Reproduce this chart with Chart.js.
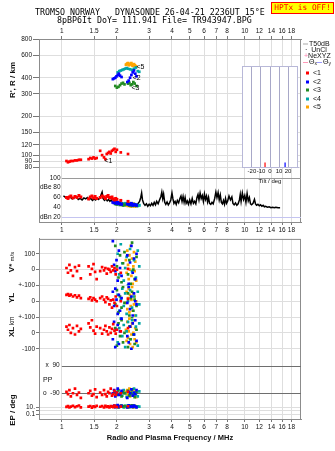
<!DOCTYPE html>
<html>
<head>
<meta charset="utf-8">
<script src="https://cdn.jsdelivr.net/npm/chart.js@4.4.1/dist/chart.umd.min.js"></script>
<style>
  body { margin: 0; background: #fff; }
  #page { position: relative; width: 335px; height: 451px; overflow: hidden; font-family: "Liberation Sans", Arial, sans-serif; color: #111; }
  canvas { position: absolute; }
  .t { position: absolute; white-space: pre; line-height: 1; }
  .mono { font-family: "DejaVu Sans Mono", monospace; font-size: 8.3px; color: #000; }
  .rot { transform: translate(-50%, -50%) rotate(-90deg); font-weight: bold; font-size: 8px; }
  .mid { transform: translate(-50%, -50%); }
  .leg { font-size: 7px; transform: translateY(-50%); }
  .ln { display: inline-block; width: 5px; height: 1px; vertical-align: middle; margin-right: 1px; }
  .sq { display: inline-block; width: 3px; height: 3px; vertical-align: middle; margin-right: 4px; }
  sub { font-size: 5px; vertical-align: -1px; }
  #hptx { left: 271px; top: 2px; width: 61px; height: 10px; background: #ffff00; border: 1px solid #ff0000; color: #ff0000; font-size: 7.8px; text-align: center; line-height: 10px; }
</style>
</head>
<body>
<div id="page">
  <canvas id="topChart" width="335" height="240" style="left:0;top:0"></canvas>
  <canvas id="lowChart" width="335" height="220" style="left:0;top:231px"></canvas>
  <canvas id="tiltChart" width="75" height="125" style="left:230px;top:60px"></canvas>

  <div class="t mono" style="left:35px;top:8px">TROMSO NORWAY   DYNASONDE 26-04-21 2236UT 15°E</div>
  <div class="t mono" style="left:57px;top:16px">8pBP6It DoY= 111.941 File= TR943947.BPG</div>
  <div class="t mono" id="hptx">HPTx is OFF!</div>

  <div class="t leg" style="left:303px;top:43px"><span class="ln" style="background:#aaa"></span>T50dB</div>
  <div class="t leg" style="left:305px;top:49px">·  UnCl</div>
  <div class="t leg" style="left:304px;top:55px"><span style="color:#ff80b0">+</span>NeXYZ</div>
  <div class="t leg" style="left:303px;top:62px"><span class="ln" style="background:#ff9ab8"></span>Θ<sub>x</sub><span class="ln" style="background:#9a9aff"></span>Θ<sub>y</sub></div>
  <div class="t leg" style="left:306px;top:72px"><span class="sq" style="background:#ff0000"></span>&lt;1</div>
  <div class="t leg" style="left:306px;top:81px"><span class="sq" style="background:#0000ff"></span>&lt;2</div>
  <div class="t leg" style="left:306px;top:89px"><span class="sq" style="background:#228b22"></span>&lt;3</div>
  <div class="t leg" style="left:306px;top:98px"><span class="sq" style="background:#00a5a5"></span>&lt;4</div>
  <div class="t leg" style="left:306px;top:106px"><span class="sq" style="background:#ffa500"></span>&lt;5</div>

  <div class="t rot" style="left:13px;top:80px">R', R / km</div>
  <div class="t rot" style="left:12px;top:262px">V* <span style="font-size:6px;font-weight:normal">m/s</span></div>
  <div class="t rot" style="left:12px;top:298px">YL</div>
  <div class="t rot" style="left:12px;top:321px;font-size:6.5px;font-weight:normal">km</div>
  <div class="t rot" style="left:12px;top:332px">XL</div>
  <div class="t rot" style="left:13px;top:410px">EP / deg</div>
  <div class="t" style="left:43px;top:376px;font-size:7px">PP</div>
  <div class="t mid" style="left:170px;top:438px;font-size:7.5px;font-weight:bold">Radio and Plasma Frequency / MHz</div>
</div>

<script>
// frequency axis ticks (MHz) and the other tick sets
const freqTicks = [1, 1.5, 2, 3, 4, 5, 6, 7, 8, 10, 12, 14, 16, 18];
const rangeTicks = [80, 90, 100, 120, 150, 200, 300, 400, 600, 800];
const dbTicks = [20, 40, 60, 80, 100];
const dbRefLines = [100, 20];
const velTicks = [100, 0, -100];
const ppTicks = [90, -90];
const epTicks = [10, 1, 0.1];
const tiltTicks = [-20, -10, 0, 10, 20];

// echo trace <1
const freq1 = [1.06, 1.08, 1.10, 1.12, 1.15, 1.18, 1.21, 1.24, 1.27, 1.40, 1.43, 1.46, 1.49, 1.52, 1.55,
  1.62, 1.66, 1.70, 1.73, 1.76, 1.79, 1.82, 1.85, 1.88, 1.91, 1.94, 1.97, 2.00, 2.10, 2.30];
const range1 = [90, 88, 89, 90, 90, 91, 91, 92, 92, 93, 95, 94, 96, 94, 95,
  108, 100, 96, 93, 102, 104, 106, 103, 108, 110, 112, 106, 110, 105, 102];
const amp1 = [60, 58, 61, 63, 59, 62, 60, 64, 61, 57, 61, 63, 59, 62, 58,
  60, 63, 61, 58, 62, 64, 60, 59, 61, 57, 55, 58, 56, 54, 52];
const vstar1 = [10, -20, 30, -5, -40, 15, -10, 25, -55, 20, -30, 5, 35, -15, -60,
  -10, 15, -5, 10, -25, 5, 0, -15, 20, -5, 10, -30, 0, -20, 5];
const yl1 = [40, 45, 35, 42, 30, 38, 25, 36, 20, 15, 25, 5, 20, 10, 0,
  20, 30, 10, -5, 25, 15, -20, 5, -40, 10, -10, 30, -30, 0, 15];
const xl1 = [40, 20, 50, 0, 30, -10, 45, 10, 25, 60, 35, 80, 15, -5, 40,
  30, -5, 20, 45, 10, -10, 35, 0, 25, 55, 15, -5, 20, 10, 30];
const pp1 = [-80, -95, -70, -110, -90, -60, -100, -85, -120, -90, -75, -105, -95, -65, -115,
  -85, -100, -70, -95, -110, -80, -90, -60, -105, -95, -75, -100, -85, -90, -80];
const ep1 = [12, 20, 8, 15, 25, 10, 18, 30, 9, 14, 22, 7, 16, 11, 26,
  13, 19, 8, 24, 12, 17, 9, 21, 15, 10, 28, 13, 11, 14, 18];

// echo trace <2
const freq2 = [1.90, 1.93, 1.96, 1.99, 2.02, 2.05, 2.08, 2.12, 2.28, 2.32, 2.36, 2.40, 2.44, 2.48, 2.52, 2.56];
const range2 = [390, 395, 400, 410, 420, 430, 415, 405, 370, 380, 400, 420, 440, 455, 430, 410];
const amp2 = [50, 49, 51, 48, 50, 47, 49, 46, 47, 46, 45, 48, 44, 46, 45, 44];
const vstar2 = [180, 30, -10, 60, -70, 120, 10, -40, 90, -90, 45, 150, -20, 70, -60, 100];
const yl2 = [60, -30, 80, 10, -80, 40, -60, 20, -10, 90, -50, 30, -90, 50, 0, -20];
const xl2 = [-40, 70, -90, 20, 50, -70, 10, 90, -20, -60, 40, -100, 60, -10, 80, -50];
const pp2 = [-90, -70, -110, -85, -60, -100, -95, -75, -120, -80, -90, -65, -105, -85, -95, -70];
const ep2 = [15, 30, 10, 22, 40, 12, 18, 25, 8, 35, 14, 20, 11, 28, 16, 9];

// echo trace <3
const freq3 = [1.96, 2.00, 2.04, 2.08, 2.12, 2.16, 2.20, 2.30, 2.34, 2.38, 2.42, 2.46, 2.50, 2.56];
const range3 = [345, 335, 340, 350, 360, 365, 355, 360, 365, 350, 355, 370, 360, 345];
const amp3 = [47, 46, 48, 45, 46, 44, 45, 46, 44, 45, 43, 46, 44, 43];
const vstar3 = [150, 20, -50, 90, -80, 40, 110, -30, 60, -90, 170, 0, -60, 80];
const yl3 = [-20, 70, -70, 30, -40, 90, -10, 50, -90, 20, 60, -60, 10, -30];
const xl3 = [30, -80, 60, -20, 80, -60, 0, -90, 40, -40, 100, -10, -70, 20];
const pp3 = [-85, -100, -70, -95, -110, -80, -90, -75, -105, -88, -65, -98, -115, -82];
const ep3 = [12, 25, 9, 18, 30, 14, 20, 10, 24, 16, 35, 11, 22, 13];

// echo trace <4
const freq4 = [2.02, 2.06, 2.10, 2.14, 2.18, 2.22, 2.26, 2.30, 2.36, 2.42, 2.48, 2.54, 2.60, 2.65];
const range4 = [440, 450, 455, 460, 465, 470, 475, 470, 465, 460, 470, 480, 450, 445];
const amp4 = [49, 48, 46, 47, 45, 48, 46, 47, 45, 44, 46, 45, 43, 44];
const vstar4 = [100, -30, 160, 40, -70, 10, 80, -100, 130, -10, 60, -50, 120, 20];
const yl4 = [40, -60, 10, 80, -30, 50, -80, 0, 70, -40, 30, -90, 60, -20];
const xl4 = [-60, 30, 90, -20, 50, -90, 10, 70, -40, 80, -10, 40, -80, 60];
const pp4 = [-75, -95, -85, -105, -70, -90, -115, -80, -100, -88, -60, -95, -110, -78];
const ep4 = [20, 11, 28, 15, 9, 24, 13, 33, 10, 19, 26, 12, 17, 14];

// echo trace <5
const freq5 = [2.24, 2.26, 2.28, 2.30, 2.32, 2.34, 2.36, 2.38, 2.40, 2.42, 2.44, 2.46, 2.48, 2.50, 2.52, 2.55];
const range5 = [505, 510, 515, 520, 500, 505, 510, 515, 520, 500, 495, 505, 510, 500, 495, 490];
const amp5 = [46, 44, 47, 43, 45, 48, 44, 42, 46, 45, 43, 47, 44, 42, 45, 43];
const vstar5 = [60, -20, 120, 30, -60, 90, 0, 150, -40, 70, -90, 20, 110, -10, 50, -70];
const yl5 = [-10, 60, -50, 20, 80, -70, 40, -30, 10, 90, -60, 50, -20, 30, -90, 0];
const xl5 = [20, -50, 70, -30, 10, 90, -70, 40, -10, 60, -90, 0, 80, -40, 30, -60];
const pp5 = [-80, -95, -70, -100, -88, -60, -110, -85, -92, -75, -105, -90, -65, -98, -80, -115];
const ep5 = [10, 22, 14, 30, 8, 18, 26, 12, 20, 16, 35, 9, 24, 13, 19, 11];

// noise amplitude (black trace, dB)
const noiseFreq = [
  1.02, 1.05, 1.08, 1.11, 1.14, 1.17, 1.20, 1.23, 1.26, 1.29,
  1.32, 1.35, 1.38, 1.41, 1.44, 1.47, 1.50, 1.53, 1.56, 1.59,
  1.62, 1.64, 1.66, 1.68, 1.71, 1.74, 1.77, 1.80, 1.83, 1.86,
  1.89, 1.92, 1.95, 1.98, 2.02, 2.06, 2.10, 2.15, 2.20, 2.25,
  2.30, 2.36, 2.42, 2.48, 2.54, 2.60, 2.66, 2.70, 2.73, 2.76,
  2.80, 2.85, 2.90, 2.95, 3.00, 3.05, 3.10, 3.15, 3.20, 3.25,
  3.30, 3.36, 3.42, 3.48, 3.52, 3.56, 3.60, 3.65, 3.70, 3.76,
  3.82, 3.88, 3.94, 4.00, 4.05, 4.10, 4.16, 4.22, 4.28, 4.35,
  4.42, 4.48, 4.54, 4.60, 4.66, 4.72, 4.78, 4.85, 4.92, 5.00,
  5.08, 5.16, 5.24, 5.32, 5.40, 5.48, 5.55, 5.62, 5.70, 5.78,
  5.86, 5.94, 6.02, 6.10, 6.18, 6.26, 6.34, 6.42, 6.52, 6.62,
  6.72, 6.85, 6.95, 7.05, 7.15, 7.25, 7.35, 7.45, 7.55, 7.65,
  7.75, 7.85, 7.95, 8.05, 8.20, 8.35, 8.50, 8.62, 8.75, 8.90,
  9.05, 9.20, 9.35, 9.45, 9.55, 9.70, 9.85, 10.0, 10.15, 10.3,
  10.45, 10.6, 10.75, 10.9, 11.1, 11.3, 11.45, 11.6, 11.8, 12.0,
  12.2, 12.4, 12.6, 12.8, 13.0, 13.3, 13.6, 13.9, 14.2, 14.5,
  14.8, 15.2, 15.6];
const noiseDb = [
  63, 60, 58, 61, 57, 59, 62, 56, 58, 55,
  59, 57, 60, 56, 58, 54, 57, 55, 59, 56,
  60, 66, 71, 58, 54, 57, 53, 56, 52, 55,
  51, 53, 49, 51, 48, 50, 47, 49, 46, 48,
  45, 47, 44, 46, 45, 47, 52, 60, 69, 55,
  48, 44, 47, 42, 46, 43, 48, 44, 50, 45,
  52, 47, 55, 62, 71, 58, 67, 50, 46, 51,
  45, 49, 55, 69, 57, 48, 52, 46, 54, 49,
  58, 63, 52, 62, 50, 60, 48, 53, 46, 55,
  47, 58, 48, 52, 47, 60, 66, 55, 69, 58,
  64, 52, 67, 56, 63, 51, 60, 48, 46, 50,
  47, 58, 71, 60, 70, 55, 65, 50, 47, 54,
  46, 58, 48, 52, 63, 55, 61, 48, 45, 49,
  44, 47, 55, 66, 52, 69, 56, 64, 50, 68,
  53, 60, 47, 45, 48, 56, 47, 44, 46, 43,
  45, 42, 44, 41, 42, 40, 41, 39, 40, 39,
  40, 39, 39];

// tilt inset (deg)
const tiltX = [-5.5];
const tiltY = [16.7];

const traceNames = ['<1', '<2', '<3', '<4', '<5'];
const traceColors = ['#ff0000', '#0000ff', '#228b22', '#00a5a5', '#ffa500'];
const traces = [
  { f: freq1, r: range1, a: amp1, v: vstar1, yl: yl1, xl: xl1, pp: pp1, ep: ep1 },
  { f: freq2, r: range2, a: amp2, v: vstar2, yl: yl2, xl: xl2, pp: pp2, ep: ep2 },
  { f: freq3, r: range3, a: amp3, v: vstar3, yl: yl3, xl: xl3, pp: pp3, ep: ep3 },
  { f: freq4, r: range4, a: amp4, v: vstar4, yl: yl4, xl: xl4, pp: pp4, ep: ep4 },
  { f: freq5, r: range5, a: amp5, v: vstar5, yl: yl5, xl: xl5, pp: pp5, ep: ep5 },
];
const traceTags = [
  { text: '<1', f: 1.71, r: 90 },
  { text: '<3', f: 2.40, r: 335 },
  { text: '<2', f: 2.44, r: 400 },
  { text: '<5', f: 2.56, r: 488 },
];

Chart.defaults.font.family = '"Liberation Sans", Arial, sans-serif';
Chart.defaults.font.size = 6.5;
Chart.defaults.color = '#111';
Chart.defaults.animation = false;

const GRID = '#dedede';
const FRAME = '#8c8c8c';

const fixedTicks = (values) => (s) => { s.ticks = values.map((v) => ({ value: v })); };
const pairs = (xs, ys) => xs.map((x, i) => ({ x, y: ys[i] }));

const frame = (color) => ({
  id: 'frame',
  beforeDatasetsDraw(chart) {
    const { ctx, chartArea: a } = chart;
    ctx.save();
    ctx.strokeStyle = color;
    ctx.lineWidth = 1;
    ctx.strokeRect(a.left + 0.5, a.top + 0.5, a.right - a.left - 1, a.bottom - a.top);
    ctx.restore();
  },
});

// horizontal reference lines that start at the 1 MHz grid line
const refLines = (axisId, values, colors) => ({
  id: 'ref_' + axisId,
  beforeDatasetsDraw(chart) {
    const { ctx, chartArea: a } = chart;
    const s = chart.scales[axisId];
    const x0 = chart.scales.x.getPixelForValue(1);
    ctx.save();
    values.forEach((v, i) => {
      const y = Math.round(s.getPixelForValue(v)) + 0.5;
      ctx.strokeStyle = colors[i];
      ctx.beginPath();
      ctx.moveTo(x0, y);
      ctx.lineTo(a.right, y);
      ctx.stroke();
    });
    ctx.restore();
  },
});

const tagPlugin = {
  id: 'tags',
  afterDatasetsDraw(chart) {
    const { ctx } = chart;
    ctx.save();
    ctx.fillStyle = '#000';
    ctx.font = '7px "Liberation Sans", Arial, sans-serif';
    ctx.textBaseline = 'middle';
    traceTags.forEach((t) => {
      ctx.fillText(t.text, chart.scales.x.getPixelForValue(t.f), chart.scales.yR.getPixelForValue(t.r));
    });
    ctx.restore();
  },
};

function freqAxis(position, height, extra) {
  return Object.assign({
    type: 'logarithmic',
    position,
    min: 0.75,
    max: 20.3,
    afterBuildTicks: fixedTicks(freqTicks),
    afterFit: (s) => { s.height = height; },
    ticks: { callback: (v) => String(v), autoSkip: false, maxRotation: 0, padding: 1 },
    grid: { color: GRID, tickColor: '#777', tickLength: 3 },
    border: { color: FRAME },
  }, extra);
}

function leftAxis(extra) {
  return Object.assign({
    position: 'left',
    afterFit: (s) => { s.width = 39; },
    border: { color: FRAME },
  }, extra);
}

const pointSet = (data, axis, color, radius) => ({
  data,
  yAxisID: axis,
  backgroundColor: color,
  borderWidth: 0,
  pointStyle: 'rect',
  pointRadius: radius,
});

// ---- upper frame: virtual height and echo amplitude ----
const topSets = [];
traces.forEach((tr, k) => {
  topSets.push(pointSet(pairs(tr.f, tr.r), 'yR', traceColors[k], 1.9));
  topSets.push(pointSet(pairs(tr.f, tr.a), 'yD', traceColors[k], 2.1));
});
topSets.push({
  data: pairs(noiseFreq, noiseDb),
  yAxisID: 'yD',
  showLine: true,
  borderColor: '#000',
  borderWidth: 1.5,
  pointRadius: 0,
  order: 5,
});

new Chart(document.getElementById('topChart'), {
  type: 'scatter',
  data: { datasets: topSets },
  options: {
    responsive: false,
    layout: { padding: { left: 0, right: 34, top: 0, bottom: 0 } },
    plugins: { legend: { display: false }, tooltip: { enabled: false } },
    scales: {
      x: freqAxis('bottom', 18),
      x2: freqAxis('top', 39, { grid: { drawOnChartArea: false, tickColor: '#777', tickLength: 3 } }),
      yD: leftAxis({
        type: 'linear', min: 10, max: 118, stack: 'upper', stackWeight: 53,
        afterBuildTicks: fixedTicks(dbTicks),
        ticks: { mirror: true, crossAlign: 'far', padding: 1, autoSkip: false,
          callback: (v) => (v === 80 ? 'dBe 80' : v === 20 ? 'dBn 20' : String(v)) },
        grid: { display: false },
      }),
      yR: leftAxis({
        type: 'logarithmic', min: 78, max: 800, stack: 'upper', stackWeight: 130,
        afterBuildTicks: fixedTicks(rangeTicks),
        ticks: { callback: (v) => String(v), padding: 1, autoSkip: false },
        grid: { color: GRID, tickColor: '#777', tickLength: 6 },
      }),
    },
  },
  plugins: [frame(FRAME), refLines('yD', dbRefLines, ['#9a9a9a', '#c4c4f0']), tagPlugin],
});

// ---- lower frame: V*, YL, XL, PP, EP ----
const lowSets = [];
traces.forEach((tr, k) => {
  const c = traceColors[k];
  lowSets.push(pointSet(pairs(tr.f, tr.v), 'yV', c, 1.9));
  lowSets.push(pointSet(pairs(tr.f, tr.yl), 'yY', c, 1.9));
  lowSets.push(pointSet(pairs(tr.f, tr.xl), 'yX', c, 1.9));
  lowSets.push(pointSet(pairs(tr.f, tr.pp), 'yP', c, 1.9));
  lowSets.push(pointSet(pairs(tr.f, tr.ep), 'yE', c, 1.9));
});

const velAxis = (min, max, weight, labels) => leftAxis({
  type: 'linear', min, max, stack: 'lower', stackWeight: weight,
  afterBuildTicks: fixedTicks(velTicks),
  ticks: { padding: 1, autoSkip: false, callback: (v, i) => labels[i] },
  grid: { color: GRID, tickColor: '#777', tickLength: 3 },
});

new Chart(document.getElementById('lowChart'), {
  type: 'scatter',
  data: { datasets: lowSets },
  options: {
    responsive: false,
    layout: { padding: { left: 0, right: 34, top: 6, bottom: 0 } },
    plugins: { legend: { display: false }, tooltip: { enabled: false } },
    scales: {
      x: freqAxis('bottom', 32),
      yE: leftAxis({
        type: 'logarithmic', min: 0.004, max: 1000, stack: 'lower', stackWeight: 19,
        afterBuildTicks: fixedTicks(epTicks),
        ticks: { padding: 1, autoSkip: false, callback: (v) => (v === 10 ? '10.' : v === 0.1 ? '0.1' : '') },
        grid: { color: GRID, tickColor: '#777', tickLength: 3 },
      }),
      yP: leftAxis({
        type: 'linear', min: -135, max: 148, stack: 'lower', stackWeight: 44,
        afterBuildTicks: fixedTicks(ppTicks),
        ticks: { mirror: true, crossAlign: 'far', padding: 4, autoSkip: false,
          callback: (v) => (v === 90 ? 'x  90' : 'o  -90') },
        grid: { display: false },
      }),
      yX: velAxis(-150, 100, 40, ['', '0', '-100']),
      yY: velAxis(-100, 100, 32, ['', '0', '+-100']),
      yV: velAxis(-100, 194, 47, ['100', '0', '+-100']),
    },
  },
  plugins: [frame(FRAME), refLines('yP', ppTicks, ['#6e6e6e', '#6e6e6e'])],
});

// ---- tilt inset ----
new Chart(document.getElementById('tiltChart'), {
  type: 'scatter',
  data: {
    datasets: [
      { data: tiltX.map((t) => ({ x: t, y: 0.02 })), pointStyle: 'line', rotation: 90, pointRadius: 2.5, borderColor: '#ff0000', borderWidth: 1.2 },
      { data: tiltY.map((t) => ({ x: t, y: 0.02 })), pointStyle: 'line', rotation: 90, pointRadius: 2.5, borderColor: '#0000ff', borderWidth: 1.2 },
    ],
  },
  options: {
    responsive: false,
    layout: { padding: { left: 12, right: 7, top: 6, bottom: 0 } },
    plugins: { legend: { display: false }, tooltip: { enabled: false } },
    scales: {
      x: {
        type: 'linear', min: -31, max: 31,
        afterBuildTicks: fixedTicks(tiltTicks),
        afterFit: (s) => { s.height = 18; },
        ticks: { font: { size: 6 }, padding: 1, maxRotation: 0, autoSkip: false },
        grid: { color: '#a8a8c8', drawTicks: false },
        border: { color: '#b8b8d8' },
        title: { display: true, text: 'Tilt / deg', font: { size: 6 }, padding: 0 },
      },
      y: { display: false, min: 0, max: 1 },
    },
  },
  plugins: [
    {
      id: 'whiteArea',
      beforeDraw(chart) {
        const { ctx, chartArea: a } = chart;
        ctx.save();
        ctx.fillStyle = '#fff';
        ctx.fillRect(a.left, a.top, a.right - a.left, a.bottom - a.top);
        ctx.restore();
      },
    },
    frame('#b8b8d8'),
  ],
});
</script>
</body>
</html>
